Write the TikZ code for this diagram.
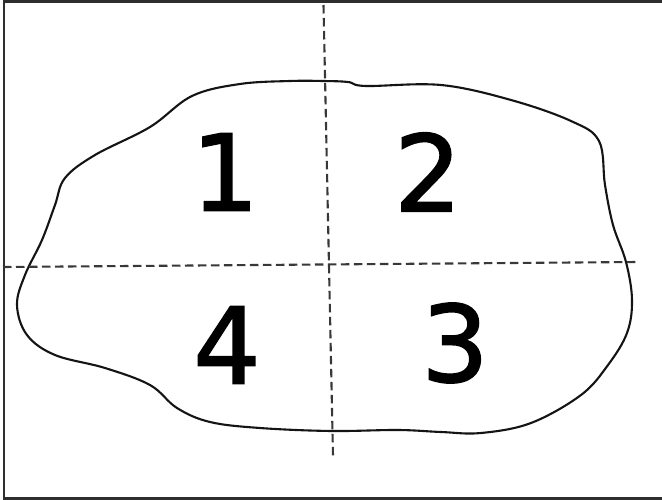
\documentclass[tikz,border=0pt]{standalone}
\usepackage{fontspec}
\newfontfamily\digitfont[FakeBold=1.6]{DejaVu Sans}
\begin{document}
\begin{tikzpicture}[x=1pt,y=-1pt,
  frameline/.style={draw=black!82,line width=2.8pt},
  blobline/.style={draw=black!92,line width=2.1pt,line join=round},
  cutline/.style={draw=black!78,line width=2.1pt,dash pattern=on 8.5pt off 4.5pt},
  digit/.style={inner sep=0pt,font=\digitfont\fontsize{106}{106}\selectfont,text=black}]
\useasboundingbox (0,0) rectangle (662,500);
\fill[white] (0,0) rectangle (662,500);
% frame (left, top, bottom only)
\coordinate (fbl) at (4,498.5);
\coordinate (ftl) at (4,1.3);
\coordinate (ftr) at (662,1.3);
\coordinate (fbr) at (662,498.5);
\draw[frameline] (ftr) -- (ftl) -- (fbl) -- (fbr);
% blob
\draw[blobline] plot[smooth cycle,tension=0.6] coordinates {
 (323,81) (348,82) (366,86) (441,85) (511,100) (571,121) (599,141)
 (605,185) (613,225) (626,262) (632,300) (627,333) (608,365) (581,395)
 (531,423) (481,433) (441,432) (398,430) (331,431) (260,428) (210,422)
 (177,408) (150,385) (105,368) (55,355) (27,335) (17,305) (25,275)
 (42,240) (55,205) (65,178) (95,155) (150,127) (192,96)
 (240,84) (290,81)};
% dashed cut lines
\coordinate (vtop) at (323.5,5);
\coordinate (vbot) at (333,456);
\coordinate (hl) at (3,267);
\coordinate (hr) at (638,262);
\draw[cutline] (vtop) -- (vbot);
\draw[cutline] (hl) -- (hr);
% digits
\node[digit] (d1) at (225,172) {1};
\node[digit] (d2) at (428,172) {2};
\node[digit] (d4) at (227,345) {4};
\node[digit] (d3) at (455,343) {3};
\end{tikzpicture}
\end{document}
